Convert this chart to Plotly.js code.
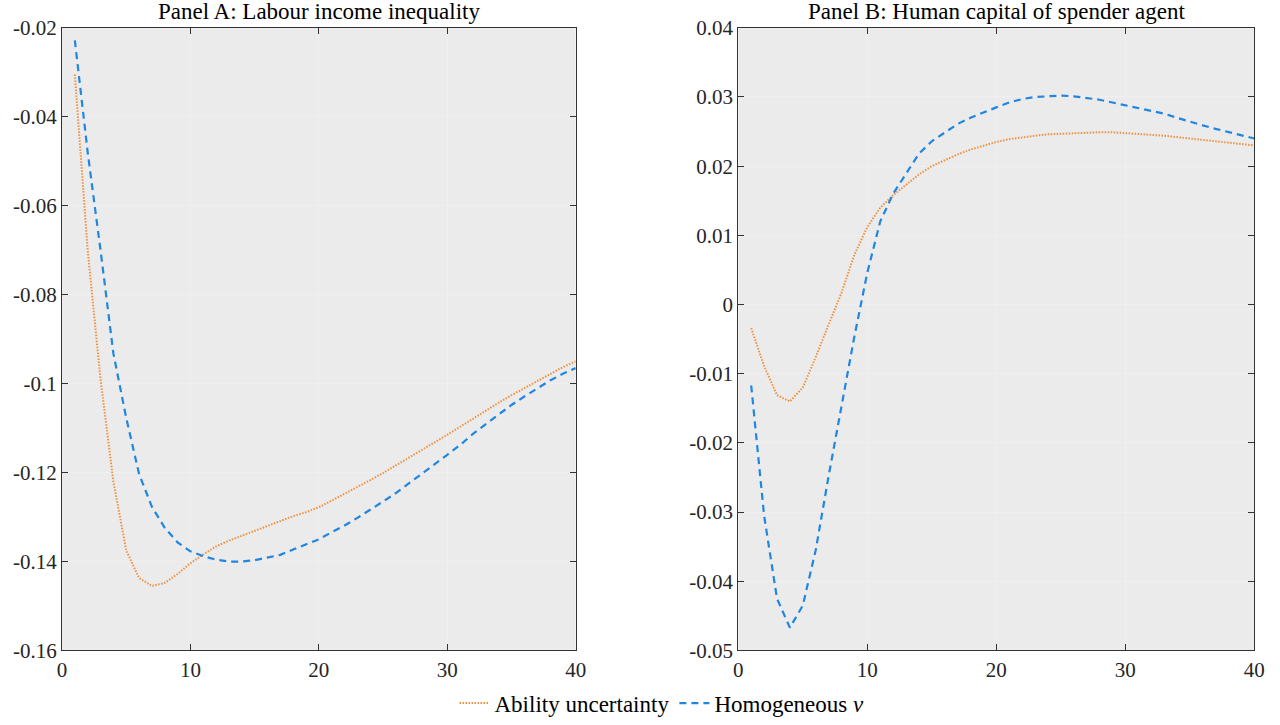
<!DOCTYPE html>
<html>
<head>
<meta charset="utf-8">
<script src="https://cdn.plot.ly/plotly-3.0.1.min.js"></script>
<style>
html,body{margin:0;padding:0;background:#fff;}
#chart{width:1280px;height:725px;}
#chart text{font-family:'Liberation Serif','Times New Roman',serif !important;}
</style>
</head>
<body>
<div id="chart"></div>
<script>
// Horizon (periods)
const periods = Array.from({length: 40}, (_, i) => i + 1);

// Panel A: Labour income inequality
const abilityA = [-0.0305, -0.0700, -0.0990, -0.1220, -0.1375, -0.1437, -0.1455, -0.1448, -0.1428, -0.1404,
  -0.1384, -0.1366, -0.1353, -0.1342, -0.1331, -0.1320, -0.1310, -0.1298, -0.1289, -0.1278,
  -0.1263, -0.1248, -0.1233, -0.1217, -0.1201, -0.1184, -0.1167, -0.1150, -0.1133, -0.1115,
  -0.1097, -0.1079, -0.1060, -0.1043, -0.1026, -0.1010, -0.0994, -0.0978, -0.0963, -0.0950];
const homogA = [-0.0228, -0.0480, -0.0700, -0.0932, -0.1077, -0.1203, -0.1277, -0.1324, -0.1357, -0.1377,
  -0.1388, -0.1396, -0.1400, -0.1400, -0.1397, -0.1391, -0.1385, -0.1373, -0.1362, -0.1350,
  -0.1334, -0.1319, -0.1302, -0.1284, -0.1265, -0.1246, -0.1225, -0.1204, -0.1182, -0.1160,
  -0.1138, -0.1113, -0.1091, -0.1069, -0.1048, -0.1029, -0.1011, -0.0993, -0.0978, -0.0965];

// Panel B: Human capital of spender agent
const abilityB = [-0.0034, -0.0089, -0.0131, -0.0140, -0.0120, -0.0076, -0.0029, 0.0017, 0.0072, 0.0112,
  0.0140, 0.0158, 0.0173, 0.0188, 0.0200, 0.0209, 0.0217, 0.0224, 0.0230, 0.0235,
  0.0239, 0.0242, 0.0244, 0.0246, 0.0247, 0.0248, 0.0248, 0.0249, 0.0249, 0.0248,
  0.0247, 0.0246, 0.0244, 0.0242, 0.0240, 0.0238, 0.0236, 0.0234, 0.0232, 0.0230];
const homogB = [-0.0117, -0.0305, -0.0425, -0.0467, -0.0435, -0.0355, -0.0248, -0.0147, -0.0046, 0.0046,
  0.0120, 0.0160, 0.0190, 0.0218, 0.0236, 0.0249, 0.0261, 0.0270, 0.0278, 0.0285,
  0.0292, 0.0297, 0.0300, 0.0301, 0.0302, 0.0301, 0.0299, 0.0296, 0.0292, 0.0288,
  0.0284, 0.0280, 0.0276, 0.0270, 0.0264, 0.0259, 0.0254, 0.0249, 0.0244, 0.0240];

// Ticks and labels
const xTicks = [0, 10, 20, 30, 40];
const xTickLabels = ['0', '10', '20', '30', '40'];
const yTicksA = [-0.16, -0.14, -0.12, -0.10, -0.08, -0.06, -0.04, -0.02];
const yTickLabelsA = ['-0.16', '-0.14', '-0.12', '-0.1', '-0.08', '-0.06', '-0.04', '-0.02'];
const yTicksB = [-0.05, -0.04, -0.03, -0.02, -0.01, 0, 0.01, 0.02, 0.03, 0.04];
const yTickLabelsB = ['-0.05', '-0.04', '-0.03', '-0.02', '-0.01', '0', '0.01', '0.02', '0.03', '0.04'];
const titles = ['Panel A: Labour income inequality', 'Panel B: Human capital of spender agent'];
const seriesNames = ['Ability uncertainty', 'Homogeneous <i>v</i>'];

const orange = '#f0913f';
const blue = '#1f86e2';
const FONT = 'Liberation Serif, Times New Roman, serif';

const traces = [
  {x: periods, y: abilityA, xaxis: 'x', yaxis: 'y', mode: 'lines', name: seriesNames[0],
   line: {color: orange, width: 2, dash: '1.5px,1.5px'}, legendgroup: 'a'},
  {x: periods, y: homogA, xaxis: 'x', yaxis: 'y', mode: 'lines', name: seriesNames[1],
   line: {color: blue, width: 2.2, dash: '7px,5px'}, legendgroup: 'h'},
  {x: periods, y: abilityB, xaxis: 'x2', yaxis: 'y2', mode: 'lines', name: seriesNames[0],
   line: {color: orange, width: 2, dash: '1.5px,1.5px'}, legendgroup: 'a', showlegend: false},
  {x: periods, y: homogB, xaxis: 'x2', yaxis: 'y2', mode: 'lines', name: seriesNames[1],
   line: {color: blue, width: 2.2, dash: '7px,5px'}, legendgroup: 'h', showlegend: false}
];

function axisCommon() {
  return {
    showline: true, linecolor: '#333333', linewidth: 1, mirror: 'ticks',
    ticks: 'inside', ticklen: 6, tickcolor: '#333333', tickwidth: 1,
    showgrid: true, gridcolor: '#efefef', gridwidth: 1, zeroline: false,
    tickfont: {family: FONT, size: 21, color: '#262626'}, tickmode: 'array'
  };
}

const yTop = 1 - 28 / 725, yBot = 1 - 655 / 725;
const layout = {
  width: 1280, height: 725,
  margin: {l: 0, r: 0, t: 0, b: 0},
  paper_bgcolor: '#ffffff', plot_bgcolor: '#ebebeb',
  font: {family: FONT, color: '#262626', size: 21},
  xaxis: Object.assign(axisCommon(), {domain: [62 / 1280, 575.7 / 1280], range: [0, 40],
    tickvals: xTicks, ticktext: xTickLabels, anchor: 'y'}),
  yaxis: Object.assign(axisCommon(), {domain: [yBot, yTop], range: [-0.16, -0.02],
    tickvals: yTicksA, ticktext: yTickLabelsA, anchor: 'x'}),
  xaxis2: Object.assign(axisCommon(), {domain: [738.3 / 1280, 1254.3 / 1280], range: [0, 40],
    tickvals: xTicks, ticktext: xTickLabels, anchor: 'y2'}),
  yaxis2: Object.assign(axisCommon(), {domain: [yBot, yTop], range: [-0.05, 0.04],
    tickvals: yTicksB, ticktext: yTickLabelsB, anchor: 'x2'}),
  showlegend: true,
  legend: {orientation: 'h', x: 662 / 1280, xanchor: 'center', y: 1 - 708 / 725, yanchor: 'middle',
    font: {family: FONT, size: 23, color: '#000000'}, bgcolor: 'rgba(0,0,0,0)',
    itemwidth: 30, tracegroupgap: 0},
  annotations: [
    {text: titles[0], xref: 'paper', yref: 'paper', x: (62 + 575.7) / 2 / 1280, y: 1 - 12 / 725,
     xanchor: 'center', yanchor: 'middle', showarrow: false, font: {family: FONT, size: 23, color: '#000000'}},
    {text: titles[1], xref: 'paper', yref: 'paper', x: (738.3 + 1254.3) / 2 / 1280, y: 1 - 12 / 725,
     xanchor: 'center', yanchor: 'middle', showarrow: false, font: {family: FONT, size: 23, color: '#000000'}}
  ]
};

Plotly.newPlot('chart', traces, layout, {displayModeBar: false, staticPlot: true});
</script>
</body>
</html>
